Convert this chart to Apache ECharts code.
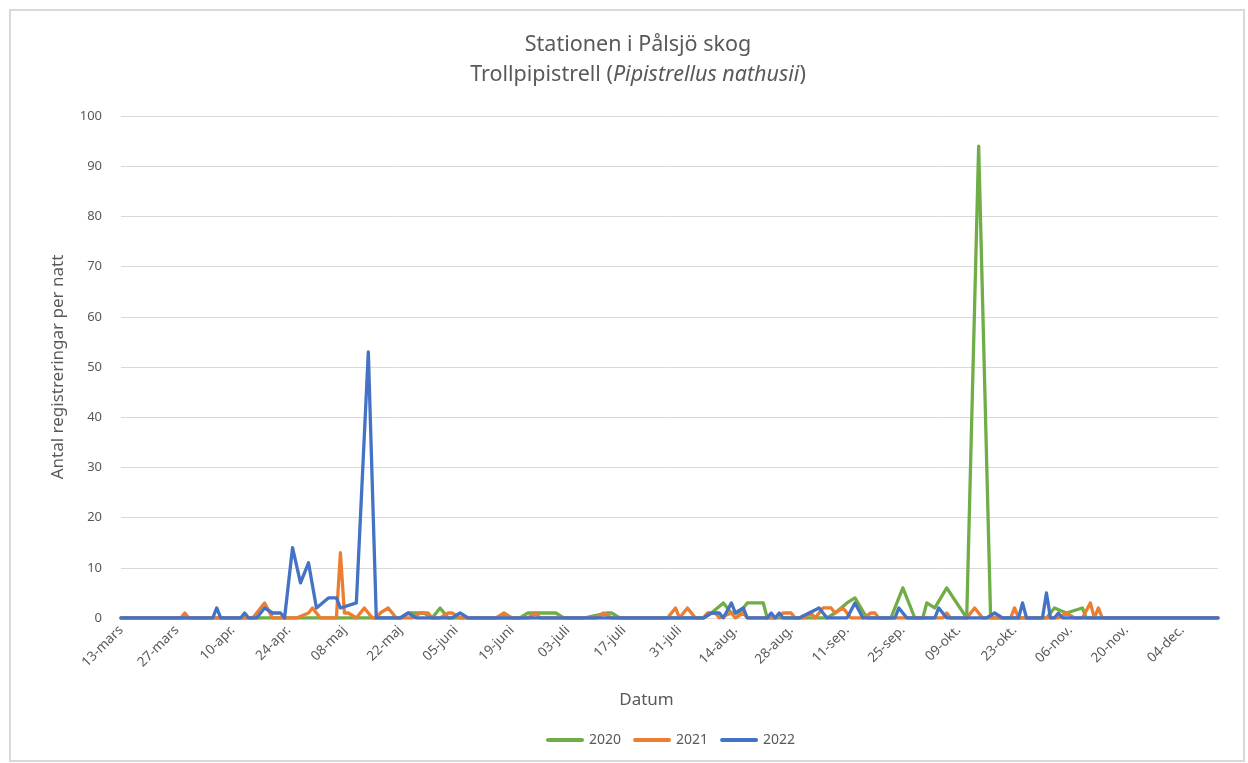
<!DOCTYPE html>
<html>
<head>
<meta charset="utf-8">
<script src="https://cdn.jsdelivr.net/npm/echarts@6/dist/echarts.min.js"></script>
<style>
  html, body { margin: 0; padding: 0; background: #ffffff; }
  #chart { width: 1248px; height: 763px; }
</style>
</head>
<body>
<div id="chart"></div>
<script>
// Nights counted from 13 mars (day 0); each pair is [day, registrations that night].
const tickLabels = ['13-mars', '27-mars', '10-apr.', '24-apr.', '08-maj', '22-maj', '05-juni',
  '19-juni', '03-juli', '17-juli', '31-juli', '14-aug.', '28-aug.', '11-sep.', '25-sep.',
  '09-okt.', '23-okt.', '06-nov.', '20-nov.', '04-dec.'];

const seriesNames = ['2020', '2021', '2022'];

const nights2020 = [[0, 0], [70, 0], [72, 1], [76, 1], [78, 0], [80, 2], [82, 0], [100, 0], [102, 1],
  [109, 1], [111, 0], [116, 0], [122, 1], [123, 1], [125, 0], [146, 0], [148, 1], [151, 3], [153, 1],
  [155, 1], [157, 3], [161, 3], [162, 0], [177, 0], [179, 1], [182, 3], [184, 4], [187, 0], [193, 0],
  [196, 6], [199, 0], [201, 0], [202, 3], [204, 2], [207, 6], [212, 0], [215, 94], [218, 0], [232, 0],
  [234, 2], [237, 1], [241, 2], [242, 0], [275, 0]];

const nights2021 = [[0, 0], [15, 0], [16, 1], [17, 0], [33, 0], [36, 3], [38, 0], [44, 0], [47, 1],
  [48, 2], [50, 0], [54, 0], [55, 13], [56, 1], [57, 1], [59, 0], [61, 2], [63, 0], [64, 0], [65, 1],
  [67, 2], [69, 0], [73, 0], [75, 1], [77, 1], [78, 0], [80, 0], [82, 1], [83, 1], [85, 0], [94, 0],
  [96, 1], [98, 0], [102, 0], [104, 1], [105, 0], [119, 0], [121, 1], [123, 0], [137, 0], [139, 2],
  [140, 0], [142, 2], [144, 0], [146, 0], [147, 1], [149, 1], [150, 0], [153, 1], [154, 0], [156, 1],
  [157, 0], [164, 0], [166, 1], [168, 1], [169, 0], [171, 0], [173, 1], [174, 0], [176, 2], [178, 2],
  [179, 1], [181, 2], [183, 0], [186, 0], [188, 1], [189, 1], [190, 0], [206, 0], [207, 1], [208, 0],
  [212, 0], [214, 2], [216, 0], [223, 0], [224, 2], [225, 0], [235, 0], [237, 1], [239, 0], [241, 0],
  [243, 3], [244, 0], [245, 2], [246, 0], [275, 0]];

const nights2022 = [[0, 0], [23, 0], [24, 2], [25, 0], [30, 0], [31, 1], [32, 0], [34, 0], [36, 2],
  [38, 1], [40, 1], [41, 0], [43, 14], [45, 7], [47, 11], [49, 2], [52, 4], [54, 4], [55, 2], [59, 3],
  [62, 53], [64, 0], [70, 0], [72, 1], [74, 0], [83, 0], [85, 1], [87, 0], [146, 0], [148, 1], [150, 1],
  [151, 0], [153, 3], [154, 1], [156, 2], [157, 0], [162, 0], [163, 1], [164, 0], [165, 1], [166, 0],
  [170, 0], [175, 2], [177, 0], [182, 0], [184, 3], [186, 0], [194, 0], [195, 2], [197, 0], [204, 0],
  [205, 2], [207, 0], [217, 0], [219, 1], [221, 0], [225, 0], [226, 3], [227, 0], [231, 0], [232, 5],
  [233, 0], [234, 0], [235, 1], [236, 0], [275, 0]];

const seriesData = [nights2020, nights2021, nights2022];
const seriesColors = ['#70AD47', '#ED7D31', '#4472C4'];

const textColor = '#595959';
const gridColor = '#d9d9d9';
const font = 'Noto Sans';

const chart = echarts.init(document.getElementById('chart'), null, { renderer: 'canvas' });

chart.setOption({
  backgroundColor: '#ffffff',
  animation: false,
  color: seriesColors,
  title: {
    text: '{a|Stationen i Pålsjö skog}\n{a|Trollpipistrell (}{i|Pipistrellus nathusii}{a|)}',
    left: 633,
    textAlign: 'center',
    top: 25,
    textStyle: {
      fontWeight: 'normal',
      rich: {
        a: { fontFamily: font, fontSize: 21.5, fontWeight: 'normal', color: textColor, lineHeight: 30 },
        i: { fontFamily: font, fontSize: 21.5, fontWeight: 'normal', color: textColor, lineHeight: 30, fontStyle: 'italic' }
      }
    }
  },
  legend: {
    data: seriesNames,
    left: 541,
    top: 728,
    itemWidth: 38,
    itemHeight: 14,
    itemGap: 12,
    icon: 'path://M2,5 L36,5 A2,2 0 0 1 36,9 L2,9 A2,2 0 0 1 2,5 Z',
    textStyle: { fontFamily: font, fontSize: 14, color: textColor }
  },
  grid: { left: 121, right: 30, top: 116, bottom: 145, containLabel: false },
  xAxis: {
    type: 'value',
    min: 0,
    max: 275,
    interval: 14,
    name: 'Datum',
    nameLocation: 'middle',
    nameGap: 74,
    nameTextStyle: { fontFamily: font, fontSize: 17, color: textColor, padding: [0, 46, 0, 0] },
    axisLine: { show: true, lineStyle: { color: gridColor, width: 1 } },
    axisTick: { show: false },
    splitLine: { show: false },
    axisLabel: {
      rotate: 45,
      margin: 10,
      fontFamily: font,
      fontSize: 13.5,
      color: textColor,
      showMaxLabel: false,
      formatter: function (v) {
        return v % 14 === 0 && tickLabels[v / 14] !== undefined ? tickLabels[v / 14] : '';
      }
    }
  },
  yAxis: {
    type: 'value',
    min: 0,
    max: 100,
    interval: 10,
    name: 'Antal registreringar per natt',
    nameLocation: 'middle',
    nameGap: 54,
    nameTextStyle: { fontFamily: font, fontSize: 17, color: textColor },
    axisLine: { show: false },
    axisTick: { show: false },
    splitLine: { lineStyle: { color: gridColor, width: 1 } },
    axisLabel: { margin: 19, fontFamily: font, fontSize: 13, color: textColor }
  },
  graphic: [{
    type: 'rect',
    shape: { x: 10, y: 10, width: 1234, height: 751 },
    style: { fill: 'none', stroke: '#d9d9d9', lineWidth: 2 },
    silent: true,
    z: -1
  }],
  series: seriesNames.map(function (name, i) {
    return {
      name: name,
      type: 'line',
      data: seriesData[i],
      symbol: 'none',
      lineStyle: { width: 3.3, color: seriesColors[i], join: 'round', cap: 'round' },
      itemStyle: { color: seriesColors[i] },
      z: 2 + i
    };
  })
});
</script>
</body>
</html>
